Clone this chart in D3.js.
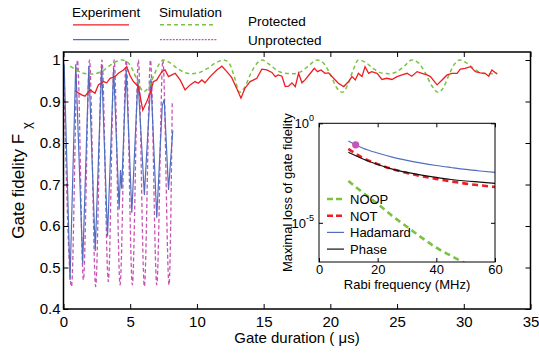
<!DOCTYPE html>
<html>
<head>
<meta charset="utf-8">
<script src="https://cdn.jsdelivr.net/npm/d3@7"></script>
<style>
  body { margin: 0; background: #fff; }
  svg, svg text { font-family: "Liberation Sans", Arial, Helvetica, sans-serif; }
</style>
</head>
<body>
<div id="chart"></div>
<script>
// main panel: gate fidelity vs gate duration (us)
const protectedExperiment = [
  [0.86, 0.926], [1.36, 0.916], [1.61, 0.913], [1.99, 0.928], [2.36, 0.92], [2.61, 0.94],
  [2.99, 0.948], [3.24, 0.945], [3.49, 0.956], [3.86, 0.96], [4.11, 0.968], [4.49, 0.976],
  [4.74, 0.984], [4.99, 0.962], [5.24, 0.948], [5.61, 0.936], [5.94, 0.879], [6.24, 0.9],
  [6.49, 0.92], [6.74, 0.948], [6.99, 0.952], [7.37, 0.972], [7.61, 0.976], [7.87, 0.96],
  [8.12, 0.964], [8.37, 0.968], [8.74, 0.952], [9.11, 0.928], [9.49, 0.94], [9.86, 0.948],
  [10.1, 0.944], [10.37, 0.952], [10.6, 0.945], [10.99, 0.96], [11.49, 0.976], [11.87, 0.985],
  [12.24, 0.972], [12.6, 0.958], [13.0, 0.93], [13.3, 0.908], [13.6, 0.932], [13.99, 0.948],
  [14.49, 0.956], [14.86, 0.978], [15.24, 0.976], [15.62, 0.97], [15.87, 0.96], [16.1, 0.964],
  [16.37, 0.961], [16.62, 0.936], [16.86, 0.937], [17.12, 0.945], [17.37, 0.936], [17.62, 0.968],
  [17.87, 0.945], [18.1, 0.952], [18.5, 0.968], [18.8, 0.98], [19.04, 0.972], [19.3, 0.976],
  [19.6, 0.968], [19.87, 0.969], [20.24, 0.956], [20.6, 0.944], [21.0, 0.936], [21.37, 0.948],
  [21.62, 0.96], [21.87, 0.952], [22.1, 0.968], [22.37, 0.96], [22.6, 0.984], [22.87, 0.968],
  [23.1, 0.972], [23.5, 0.968], [23.87, 0.953], [24.24, 0.956], [24.62, 0.953], [25.0, 0.96],
  [25.37, 0.964], [25.75, 0.968], [26.1, 0.961], [26.5, 0.972], [26.87, 0.968], [27.25, 0.964],
  [27.5, 0.96], [28.0, 0.94], [28.37, 0.952], [28.75, 0.964], [29.12, 0.968], [29.5, 0.968],
  [29.74, 0.978], [30.1, 0.98], [30.5, 0.984], [30.87, 0.972], [31.24, 0.969], [31.6, 0.968],
  [31.87, 0.961], [32.1, 0.976], [32.5, 0.966]
];

const protectedSimulation = [
  [0.5, 0.985], [1.0, 0.975], [1.5, 0.968], [2.0, 0.966], [2.5, 0.968], [3.0, 0.975],
  [3.5, 0.987], [4.0, 0.997], [4.4, 1.0], [4.8, 0.995], [5.2, 0.975], [5.6, 0.945],
  [6.0, 0.924], [6.4, 0.935], [6.8, 0.965], [7.2, 0.992], [7.5, 1.0], [7.9, 0.995],
  [8.4, 0.983], [9.0, 0.971], [9.6, 0.967], [10.2, 0.97], [10.8, 0.98], [11.4, 0.993],
  [12.0, 1.0], [12.4, 0.993], [12.8, 0.96], [13.2, 0.922], [13.6, 0.935], [14.0, 0.965],
  [14.5, 0.992], [14.9, 1.0], [15.4, 0.99], [16.0, 0.975], [16.6, 0.968], [17.2, 0.967],
  [17.8, 0.972], [18.4, 0.987], [19.0, 1.0], [19.5, 0.992], [20.0, 0.965], [20.5, 0.932],
  [20.9, 0.922], [21.3, 0.94], [21.7, 0.975], [22.1, 1.0], [22.6, 0.995], [23.2, 0.98],
  [23.8, 0.969], [24.4, 0.967], [25.0, 0.972], [25.6, 0.987], [26.1, 1.0], [26.6, 0.993],
  [27.1, 0.97], [27.6, 0.938], [28.1, 0.922], [28.5, 0.935], [28.9, 0.965], [29.3, 0.99],
  [29.7, 1.0], [30.2, 0.993], [30.8, 0.978], [31.4, 0.968], [32.0, 0.967], [32.5, 0.968]
];

const unprotectedExperiment = [
  [0.05, 0.99], [0.49, 0.47], [0.92, 0.99], [1.44, 0.51], [1.9, 0.985], [2.38, 0.54],
  [2.86, 0.985], [3.3, 0.575], [3.76, 0.98], [4.17, 0.64], [4.27, 0.735], [4.36, 0.69],
  [4.7, 0.975], [5.12, 0.632], [5.58, 0.955], [6.06, 0.675], [6.55, 0.955], [6.99, 0.62],
  [7.4, 0.89], [7.55, 0.905], [7.87, 0.687], [8.19, 0.83]
];

const unprotectedSimulation = [
  [0.0, 1.0], [0.6, 0.454], [1.05, 1.0], [1.49, 0.47], [1.95, 1.0], [2.41, 0.454],
  [2.88, 1.0], [3.36, 0.466], [3.8, 1.0], [4.24, 0.458], [4.7, 1.0], [5.16, 0.458],
  [5.61, 1.0], [6.06, 0.454], [6.52, 1.0], [6.99, 0.458], [7.45, 1.0], [7.91, 0.458],
  [8.15, 0.9]
];

const mainXTicks = [0, 5, 10, 15, 20, 25, 30, 35];
const mainYTicks = [0.4, 0.5, 0.6, 0.7, 0.8, 0.9, 1];

// inset: maximal loss of gate fidelity vs Rabi frequency (MHz)
const rabiFreq = [10, 15, 20, 25, 30, 35, 40, 45, 50, 55, 60];
const lossNOOP = [1.26e-3, 3.2e-4, 8.9e-5, 2.2e-5, 6.3e-6, 1.8e-6, 5.6e-7, 2.2e-7, 8.9e-8];
const lossNOT = [5.2e-2, 1.8e-2, 8.9e-3, 5.0e-3, 3.2e-3, 2.2e-3, 1.6e-3, 1.2e-3, 9.3e-4, 7.6e-4, 6.3e-4];
const lossHadamard = [1.29e-1, 5.6e-2, 3.2e-2, 2.0e-2, 1.38e-2, 1.0e-2, 7.6e-3, 6.0e-3, 4.8e-3, 4.0e-3, 3.4e-3];
const lossPhase = [3.5e-2, 1.6e-2, 8.5e-3, 5.0e-3, 3.4e-3, 2.5e-3, 1.9e-3, 1.5e-3, 1.26e-3, 1.1e-3, 9.5e-4];
const markerPoint = [12.5, 8.3e-2];
const insetXTicks = [0, 20, 40, 60];
const insetYTicks = [1, 1e-5];

const colors = {
  red: '#ee1d23',
  green: '#7cc242',
  blue: '#4f6fbe',
  magenta: '#c655b4',
  black: '#111'
};

const FONT = '"Liberation Sans", Arial, Helvetica, sans-serif';
const W = 539, H = 353;
const svg = d3.select('#chart').append('svg')
  .attr('width', W).attr('height', H)
  .attr('font-family', FONT);

// ---------- main panel ----------
const m = {left: 63.5, right: 530.5, top: 52, bottom: 309};
const x = d3.scaleLinear().domain([0, 35]).range([m.left, m.right]);
const y = d3.scaleLinear().domain([0.4, 1]).range([309, 60]);

const line = d3.line().x(d => x(d[0])).y(d => y(d[1]));

svg.append('defs').append('clipPath').attr('id', 'mainClip')
  .append('rect').attr('x', m.left).attr('y', m.top)
  .attr('width', m.right - m.left).attr('height', m.bottom - m.top);

const plot = svg.append('g').attr('clip-path', 'url(#mainClip)');

plot.append('path').datum(unprotectedSimulation)
  .attr('d', line.curve(d3.curveMonotoneX))
  .attr('fill', 'none').attr('stroke', colors.magenta)
  .attr('stroke-width', 1.3).attr('stroke-dasharray', '4,2.5');

plot.append('path').datum(unprotectedExperiment)
  .attr('d', line.curve(d3.curveLinear))
  .attr('fill', 'none').attr('stroke', colors.blue).attr('stroke-width', 1.2);

plot.append('path').datum(protectedSimulation)
  .attr('d', line.curve(d3.curveMonotoneX))
  .attr('fill', 'none').attr('stroke', colors.green)
  .attr('stroke-width', 1.5).attr('stroke-dasharray', '4,3');

plot.append('path').datum(protectedExperiment)
  .attr('d', line.curve(d3.curveLinear))
  .attr('fill', 'none').attr('stroke', colors.red).attr('stroke-width', 1.3);

// axes
svg.append('g').attr('class', 'axis').attr('transform', `translate(0,${m.bottom})`)
  .call(d3.axisBottom(x).tickValues(mainXTicks).tickSize(-5).tickPadding(7).tickFormat(d3.format('d')));
svg.append('g').attr('class', 'axis').attr('transform', `translate(0,${m.top})`)
  .call(d3.axisTop(x).tickValues(mainXTicks).tickSize(-5).tickFormat(''));
svg.append('g').attr('class', 'axis').attr('transform', `translate(${m.left},0)`)
  .call(d3.axisLeft(y).tickValues(mainYTicks).tickSize(-5).tickPadding(3)
    .tickFormat(d => d === 1 ? '1' : d3.format('.1f')(d)));
svg.append('g').attr('class', 'axis').attr('transform', `translate(${m.right},0)`)
  .call(d3.axisRight(y).tickValues(mainYTicks).tickSize(-5).tickFormat(''));

svg.selectAll('.axis').attr('font-family', FONT).attr('font-size', 15);
svg.selectAll('.axis .domain').remove();
svg.selectAll('.axis .tick line').attr('stroke', '#000').attr('stroke-width', 1);
svg.selectAll('.axis .tick text').attr('fill', '#000');

svg.append('rect').attr('x', m.left).attr('y', m.top)
  .attr('width', m.right - m.left).attr('height', m.bottom - m.top)
  .attr('fill', 'none').attr('stroke', '#000').attr('stroke-width', 1.5);

svg.append('text').attr('x', (m.left + m.right) / 2).attr('y', 343)
  .attr('text-anchor', 'middle').attr('font-size', '15px')
  .text('Gate duration ( \u03bcs)');

const yl = svg.append('text')
  .attr('transform', `translate(24,${(m.top + m.bottom) / 2}) rotate(-90)`)
  .attr('text-anchor', 'middle').attr('font-size', '17px');
yl.append('tspan').text('Gate fidelity F ');
yl.append('tspan').attr('dy', 7).attr('font-size', '13px').text('\u03c7');

// main legend
const lg = svg.append('g').attr('font-size', '13.5px');
lg.append('text').attr('x', 72).attr('y', 16.5).text('Experiment');
lg.append('text').attr('x', 159).attr('y', 16.5).text('Simulation');
lg.append('text').attr('x', 248).attr('y', 26).text('Protected');
lg.append('text').attr('x', 248).attr('y', 45).text('Unprotected');
lg.append('line').attr('x1', 73).attr('x2', 129).attr('y1', 24.8).attr('y2', 24.8)
  .attr('stroke', colors.red).attr('stroke-width', 1.3);
lg.append('line').attr('x1', 73).attr('x2', 129).attr('y1', 39.6).attr('y2', 39.6)
  .attr('stroke', colors.blue).attr('stroke-width', 1.2);
lg.append('line').attr('x1', 160).attr('x2', 215).attr('y1', 24.8).attr('y2', 24.8)
  .attr('stroke', colors.green).attr('stroke-width', 1.5).attr('stroke-dasharray', '4,3');
lg.append('line').attr('x1', 160).attr('x2', 217).attr('y1', 39.6).attr('y2', 39.6)
  .attr('stroke', colors.magenta).attr('stroke-width', 1.1).attr('stroke-dasharray', '2,1.2');

// ---------- inset ----------
const im = {left: 319, right: 495, top: 123.3, bottom: 262};
const ix = d3.scaleLinear().domain([0, 60]).range([im.left, im.right]);
const iy = d3.scaleLog().domain([1e-7, 1]).range([im.bottom + 0.6, im.top]);

svg.append('rect').attr('x', im.left).attr('y', im.top)
  .attr('width', im.right - im.left).attr('height', im.bottom - im.top)
  .attr('fill', '#fff');

svg.select('defs').append('clipPath').attr('id', 'insetClip')
  .append('rect').attr('x', im.left).attr('y', im.top)
  .attr('width', im.right - im.left).attr('height', im.bottom - im.top);

const inset = svg.append('g').attr('clip-path', 'url(#insetClip)');
const iline = d3.line().x(d => ix(d[0])).y(d => iy(d[1])).curve(d3.curveMonotoneX);
const zipF = vals => vals.map((v, i) => [rabiFreq[i], v]);

const insetSeries = [
  {name: 'NOOP', vals: lossNOOP, color: colors.green, width: 2.6, dash: '6,4'},
  {name: 'NOT', vals: lossNOT, color: colors.red, width: 2.6, dash: '6,4'},
  {name: 'Hadamard', vals: lossHadamard, color: colors.blue, width: 1.2, dash: null},
  {name: 'Phase', vals: lossPhase, color: colors.black, width: 1.2, dash: null}
];

inset.selectAll('path.curve')
  .data(insetSeries)
  .enter().append('path')
  .attr('class', 'curve')
  .attr('d', d => iline(zipF(d.vals)))
  .attr('fill', 'none')
  .attr('stroke', d => d.color)
  .attr('stroke-width', d => d.width)
  .attr('stroke-dasharray', d => d.dash);

inset.append('circle')
  .attr('cx', ix(markerPoint[0])).attr('cy', iy(markerPoint[1])).attr('r', 3.6)
  .attr('fill', '#c656b8');

// inset axes
const ia = svg.append('g');
ia.append('g').attr('class', 'iaxis').attr('transform', `translate(0,${im.bottom})`)
  .call(d3.axisBottom(ix).tickValues(insetXTicks).tickSize(-4).tickPadding(3).tickFormat(d3.format('d')));
ia.append('g').attr('class', 'iaxis').attr('transform', `translate(0,${im.top})`)
  .call(d3.axisTop(ix).tickValues(insetXTicks).tickSize(-4).tickFormat(''));
ia.append('g').attr('class', 'iaxis').attr('transform', `translate(${im.left},0)`)
  .call(d3.axisLeft(iy).tickValues(insetYTicks).tickSize(-4).tickFormat(''));
ia.append('g').attr('class', 'iaxis').attr('transform', `translate(${im.right},0)`)
  .call(d3.axisRight(iy).tickValues(insetYTicks).tickSize(-4).tickFormat(''));
ia.selectAll('.iaxis').attr('font-family', FONT).attr('font-size', 13);
ia.selectAll('.domain').remove();
ia.selectAll('.tick line').attr('stroke', '#000');
ia.selectAll('.tick text').attr('fill', '#000');

insetYTicks.forEach(v => {
  const p = Math.round(Math.log10(v));
  const t = ia.append('text').attr('x', im.left - 5).attr('y', iy(v) + 5)
    .attr('text-anchor', 'end').attr('font-size', '13px');
  t.append('tspan').text('10');
  t.append('tspan').attr('dy', -7).attr('font-size', '9px').text(String(p));
});

ia.append('rect').attr('x', im.left).attr('y', im.top)
  .attr('width', im.right - im.left).attr('height', im.bottom - im.top)
  .attr('fill', 'none').attr('stroke', '#000').attr('stroke-width', 1);

ia.append('text').attr('x', (im.left + im.right) / 2).attr('y', 289)
  .attr('text-anchor', 'middle').attr('font-size', '13px').text('Rabi frequency (MHz)');
ia.append('text')
  .attr('transform', `translate(292,${(im.top + im.bottom) / 2}) rotate(-90)`)
  .attr('text-anchor', 'middle').attr('font-size', '13px').text('Maximal loss of gate fidelity');

// inset legend
const ilg = svg.append('g').attr('font-size', '13px').selectAll('g')
  .data(insetSeries).enter().append('g')
  .attr('transform', (d, i) => `translate(327,${199 + i * 16.7})`);
ilg.append('line').attr('x1', 0).attr('x2', 17)
  .attr('stroke', d => d.color)
  .attr('stroke-width', d => d.width)
  .attr('stroke-dasharray', d => d.dash ? '6,3' : null);
ilg.append('text').attr('x', 23).attr('y', 5).text(d => d.name);
</script>
</body>
</html>
